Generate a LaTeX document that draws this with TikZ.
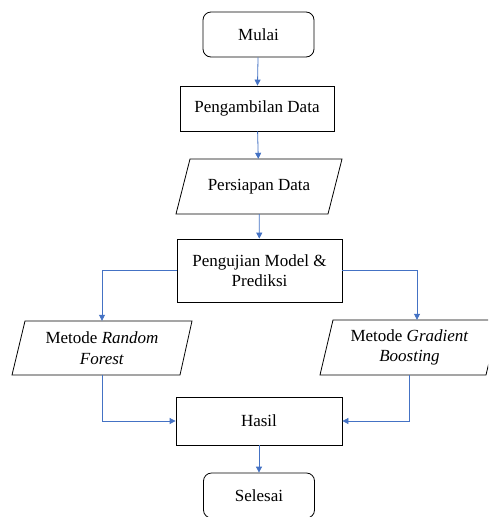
\documentclass[tikz,border=0pt]{standalone}
\usepackage{fontspec}
\setmainfont{Liberation Serif}
\usetikzlibrary{arrows.meta}
\definecolor{arrblue}{HTML}{4472C4}
\begin{document}
\begin{tikzpicture}[x=1pt,y=-1pt,
  txt/.style={inner sep=0pt,align=center,font=\fontsize{17}{20.5}\selectfont},
  term/.style={txt,draw=black,line width=0.8pt,rounded corners=8pt,minimum width=111pt,minimum height=45pt},
  proc/.style={txt,draw=black,line width=0.8pt},
  box/.style={draw=black,line width=0.8pt,line join=miter},
  arr/.style={draw=arrblue,line width=0.8pt,-{Triangle[length=6pt,width=6pt]}}]
\useasboundingbox (0,0) rectangle (488,517);
\clip (0,0) rectangle (488,517);
\fill[white] (0,0) rectangle (488,517);
% nodes
\node[term] (start) at (258.5,34.5) {Mulai};
\node[proc,minimum width=154pt,minimum height=45pt] (ambil) at (257,108.5) {Pengambilan Data};
\draw[box] (176,214) -- (328,214) -- (342,159) -- (190,159) -- cycle;
\node[txt,minimum height=55pt,minimum width=140pt] (siap) at (259,186.5) {Persiapan Data};
\node[proc,minimum width=165pt,minimum height=63pt] (uji) at (259.5,270.5) {Pengujian Model \&\\Prediksi};
\draw[box] (12,375) -- (180,375) -- (192,321) -- (25,321) -- cycle;
\node[txt,minimum height=54pt,minimum width=150pt] (rf) at (102,348) {Metode \textit{Random}\\\textit{Forest}};
\draw[box] (320,375) -- (486,375) -- (499,320) -- (333,320) -- cycle;
\node[txt,minimum height=55pt,minimum width=150pt] (gb) at (409.5,347.5) {Metode \textit{Gradient}\\\textit{Boosting}};
\node[proc,minimum width=166pt,minimum height=48pt] (hasil) at (259,421) {Hasil};
\node[term] (end) at (259,495.5) {Selesai};
% connectors
\draw[arr] (start) -- (ambil);
\draw[arr] (ambil) -- (siap);
\draw[arr] (siap) -- (uji);
\draw[arr] (uji.west) -| (rf.north);
\draw[arr] (uji.east) -| ([xshift=7.5pt]gb.north);
\draw[arr] (rf.south) |- (hasil.west);
\draw[arr] (gb.south) |- (hasil.east);
\draw[arr] (hasil) -- (end);
\end{tikzpicture}
\end{document}
